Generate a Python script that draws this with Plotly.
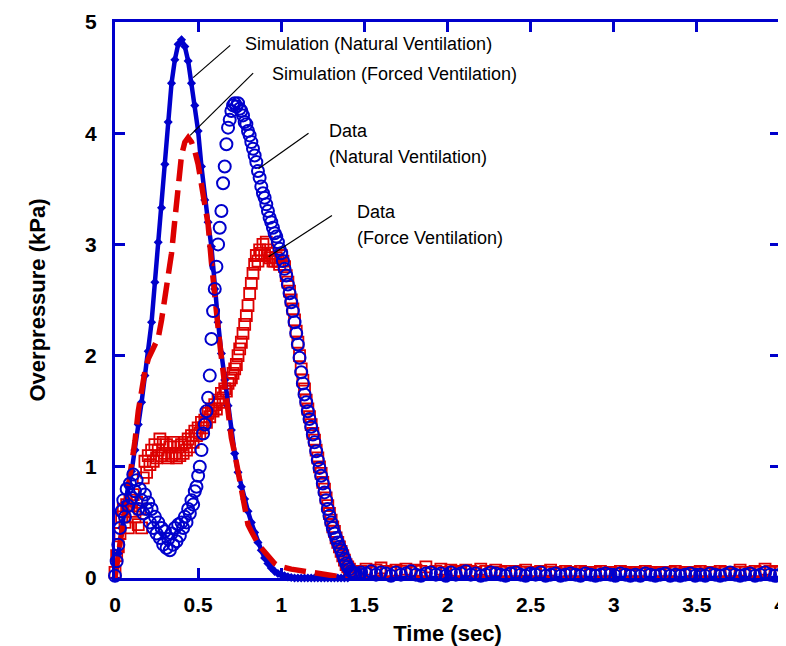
import numpy as np
import plotly.graph_objects as go

# ---------------- data ----------------
# simulation sample times: 0 .. 1.40 s every 0.02 s, plus tail points
sim_step = 0.02
sim_tail_t = [2.0, 3.0, 4.0]

sim_natural = [0, 0.22, 0.45, 0.68, 0.84, 0.96, 1.15, 1.38, 1.58, 1.82,
               2.04, 2.3, 2.66, 3.02, 3.33, 3.72, 4.1, 4.45, 4.66, 4.8,
               4.84, 4.78, 4.65, 4.45, 4.25, 4.02, 3.7, 3.4, 3.2, 2.98,
               2.6, 2.3, 2.02, 1.78, 1.55, 1.33, 1.12, 0.95, 0.82, 0.71,
               0.6, 0.5, 0.41, 0.32, 0.25, 0.18, 0.13, 0.09, 0.06, 0.04,
               0.03, 0.02, 0.01, 0.005, 0, 0, 0, 0, 0, 0,
               0, 0, 0, 0, 0, 0, 0, 0, 0, 0, 0]
sim_natural_tail = [0, 0, 0]

sim_forced = [0, 0.2, 0.42, 0.65, 0.85, 1.05, 1.23, 1.5, 1.72, 1.86,
              1.97, 2.03, 2.08, 2.16, 2.32, 2.52, 2.72, 2.92, 3.22, 3.55,
              3.8, 3.92, 3.96, 3.92, 3.84, 3.72, 3.54, 3.38, 3.18, 2.84,
              2.5, 2.25, 1.98, 1.72, 1.46, 1.26, 1.12, 0.95, 0.76, 0.6,
              0.48, 0.42, 0.36, 0.31, 0.27, 0.23, 0.19, 0.16, 0.13, 0.11,
              0.1, 0.09, 0.085, 0.08, 0.075, 0.07, 0.065, 0.06, 0.055, 0.05,
              0.045, 0.04, 0.038, 0.032, 0.026, 0.02, 0.015, 0.01, 0.005, 0, 0]
sim_forced_tail = [0, 0, 0]

# measured data: 0 .. 1.45 s every 0.01 s, then 1.48 .. 4.00 s every 0.03 s
data_step = 0.01
tail_start = 1.48
tail_step = 0.03

data_natural = [0.02, 0.15, 0.3, 0.45, 0.6, 0.7, 0.55, 0.8, 0.65, 0.85,
                0.72, 0.93, 0.78, 0.88, 0.62, 0.8, 0.7, 0.58, 0.75, 0.62,
                0.68, 0.5, 0.62, 0.45, 0.55, 0.4, 0.5, 0.36, 0.45, 0.3,
                0.42, 0.27, 0.35, 0.25, 0.4, 0.3, 0.45, 0.33, 0.48, 0.38,
                0.5, 0.45, 0.55, 0.5, 0.62, 0.58, 0.7, 0.66, 0.78, 0.82,
                0.92, 1.0, 1.15, 1.3, 1.38, 1.5, 1.62, 1.82, 2.15, 2.4,
                2.6, 2.8, 3.0, 3.15, 3.3, 3.55, 3.7, 3.9, 4.05, 4.12,
                4.2, 4.25, 4.27, 4.24, 4.27, 4.22, 4.2, 4.16, 4.1, 4.08,
                4.02, 3.98, 3.92, 3.86, 3.8, 3.74, 3.66, 3.6, 3.52, 3.46,
                3.42, 3.36, 3.3, 3.24, 3.2, 3.15, 3.1, 3.07, 3.02, 2.96,
                2.92, 2.85, 2.78, 2.72, 2.64, 2.56, 2.48, 2.4, 2.3, 2.2,
                2.1, 1.98, 1.85, 1.75, 1.65, 1.58, 1.5, 1.43, 1.36, 1.29,
                1.22, 1.14, 1.06, 0.99, 0.92, 0.85, 0.77, 0.7, 0.62, 0.56,
                0.5, 0.45, 0.4, 0.36, 0.32, 0.28, 0.25, 0.21, 0.17, 0.13,
                0.1, 0.08, 0.06, 0.05, 0.04, 0.04]
data_natural_tail = [0.05, 0.04, 0.06, 0.03, 0.05, 0.04, 0.02, 0.05, 0.03, 0.04,
                     0.06, 0.03, 0.02, 0.04, 0.05, 0.03, 0.04, 0.02, 0.05, 0.03,
                     0.04, 0.06, 0.03, 0.04, 0.02, 0.03, 0.05, 0.04, 0.03, 0.02,
                     0.04, 0.05, 0.03, 0.02, 0.04, 0.03, 0.05, 0.02, 0.03, 0.04,
                     0.02, 0.03, 0.04, 0.03, 0.02, 0.04, 0.03, 0.02, 0.03, 0.04,
                     0.03, 0.02, 0.04, 0.03, 0.02, 0.03, 0.02, 0.04, 0.03, 0.02,
                     0.03, 0.04, 0.02, 0.03, 0.02, 0.03, 0.04, 0.02, 0.03, 0.02,
                     0.04, 0.03, 0.02, 0.03, 0.05, 0.03, 0.02, 0.03, 0.04, 0.02,
                     0.03, 0.05, 0.03, 0.02, 0.03]

data_forced = [0.05, 0.2, 0.28, 0.4, 0.55, 0.62, 0.5, 0.66, 0.45, 0.7,
               0.6, 0.75, 0.55, 0.68, 0.48, 0.62, 0.45, 0.9, 1.05, 0.95,
               1.1, 1.02, 1.15, 1.05, 1.2, 1.08, 1.15, 1.25, 1.1, 1.22,
               1.12, 1.2, 1.08, 1.18, 1.1, 1.22, 1.12, 1.08, 1.18, 1.1,
               1.2, 1.12, 1.22, 1.15, 1.25, 1.18, 1.28, 1.22, 1.32, 1.28,
               1.35, 1.3, 1.4, 1.35, 1.42, 1.4, 1.48, 1.45, 1.52, 1.5,
               1.56, 1.52, 1.6, 1.58, 1.66, 1.62, 1.7, 1.68, 1.75, 1.78,
               1.8, 1.84, 1.88, 1.92, 2.0, 2.06, 2.12, 2.2, 2.28, 2.36,
               2.45, 2.56, 2.65, 2.74, 2.82, 2.9, 2.85, 2.95, 2.92, 3.0,
               2.9, 3.02, 2.95, 2.88, 2.92, 2.85, 2.85, 2.88, 2.85, 2.82,
               2.9, 2.85, 2.8, 2.72, 2.66, 2.58, 2.5, 2.42, 2.32, 2.22,
               2.12, 2.0, 1.88, 1.78, 1.7, 1.6, 1.52, 1.45, 1.38, 1.3,
               1.24, 1.15, 1.08, 1.0, 0.94, 0.86, 0.8, 0.72, 0.65, 0.58,
               0.52, 0.46, 0.42, 0.36, 0.32, 0.28, 0.24, 0.2, 0.16, 0.12,
               0.1, 0.08, 0.06, 0.05, 0.06, 0.05]
data_forced_tail = [0.06, 0.08, 0.05, 0.07, 0.09, 0.06, 0.05, 0.07, 0.06, 0.08,
                    0.05, 0.07, 0.06, 0.1, 0.05, 0.06, 0.08, 0.05, 0.07, 0.06,
                    0.05, 0.07, 0.06, 0.05, 0.08, 0.06, 0.05, 0.07, 0.05, 0.06,
                    0.04, 0.06, 0.05, 0.07, 0.05, 0.04, 0.06, 0.05, 0.07, 0.05,
                    0.04, 0.06, 0.05, 0.04, 0.06, 0.05, 0.04, 0.05, 0.06, 0.04,
                    0.05, 0.04, 0.06, 0.05, 0.04, 0.05, 0.04, 0.06, 0.05, 0.04,
                    0.05, 0.04, 0.05, 0.06, 0.04, 0.05, 0.04, 0.05, 0.06, 0.04,
                    0.05, 0.04, 0.06, 0.05, 0.04, 0.05, 0.07, 0.05, 0.04, 0.06,
                    0.05, 0.08, 0.06, 0.05, 0.06]

x_ticks = [0, 0.5, 1, 1.5, 2, 2.5, 3, 3.5, 4]
x_tick_labels = ["0", "0.5", "1", "1.5", "2", "2.5", "3", "3.5", "4"]
y_ticks = [0, 1, 2, 3, 4, 5]
y_tick_labels = ["0", "1", "2", "3", "4", "5"]

labels = ["Simulation (Natural Ventilation)", "Simulation (Forced Ventilation)",
          "Data", "(Natural Ventilation)", "Data", "(Force Ventilation)"]

# ---------------- build ----------------
t_sim = list(np.round(np.arange(len(sim_natural)) * sim_step, 3)) + sim_tail_t
t_data = list(np.round(np.arange(len(data_natural)) * data_step, 3)) + \
    list(np.round(tail_start + np.arange(len(data_natural_tail)) * tail_step, 3))

BLUE = "#0000CC"
RED = "#DD0000"
FONT = "Arial, Liberation Sans, sans-serif"

fig = go.Figure()
fig.add_trace(go.Scatter(x=t_data, y=data_forced + data_forced_tail, mode="markers",
                         marker=dict(symbol="square-open", size=11, color=RED,
                                     line=dict(width=1.8, color=RED)),
                         cliponaxis=False, name="Data (Force Ventilation)"))
fig.add_trace(go.Scatter(x=t_sim, y=sim_natural + sim_natural_tail, mode="lines+markers",
                         line=dict(color=BLUE, width=4.5),
                         marker=dict(symbol="diamond", size=7, color=BLUE),
                         cliponaxis=False, name="Simulation (Natural Ventilation)"))
fig.add_trace(go.Scatter(x=t_sim, y=sim_forced + sim_forced_tail, mode="lines",
                         line=dict(color=RED, width=5.5, dash="22px,9px"),
                         cliponaxis=False, name="Simulation (Forced Ventilation)"))
fig.add_trace(go.Scatter(x=t_data, y=data_natural + data_natural_tail, mode="markers",
                         marker=dict(symbol="circle-open", size=12, color=BLUE,
                                     line=dict(width=2, color=BLUE)),
                         cliponaxis=False, name="Data (Natural Ventilation)"))

# leader lines (data coordinates)
leaders = [((0.693, 4.79), (0.47, 4.5)),
           ((0.831, 4.54), (0.452, 3.98)),
           ((1.164, 4.0), (0.863, 3.68)),
           ((1.305, 3.26), (0.924, 2.89))]
for (x0, y0), (x1, y1) in leaders:
    fig.add_shape(type="line", xref="x", yref="y", x0=x0, y0=y0, x1=x1, y1=y1,
                  line=dict(color="black", width=1.2))

label_pos = [(0.771, 4.80), (0.934, 4.53), (1.277, 4.02), (1.277, 3.79),
             (1.446, 3.29), (1.446, 3.06)]
for txt, (x, y) in zip(labels, label_pos):
    fig.add_annotation(x=x, y=y, xref="x", yref="y", text=txt, showarrow=False,
                       xanchor="left", yanchor="middle",
                       font=dict(family=FONT, size=18, color="black"))

axis_common = dict(showline=True, linecolor=BLUE, linewidth=3, mirror="ticks",
                   ticks="inside", ticklen=10, tickwidth=3, tickcolor=BLUE,
                   showgrid=False, zeroline=False, automargin=False,
                   ticklabeloverflow="allow",
                   tickfont=dict(family=FONT, size=21, color="black", weight="bold"))

# the page body adds an 8px offset, so the figure is 8px smaller than the window
fig.update_layout(
    width=778, height=638,
    margin=dict(l=107, r=6, t=14, b=68),
    plot_bgcolor="white", paper_bgcolor="white",
    showlegend=False,
    xaxis=dict(range=[0, 4], tickvals=x_ticks, ticktext=x_tick_labels,
               ticklabelstandoff=6,
               title=dict(text="Time (sec)", standoff=11,
                          font=dict(family=FONT, size=22, color="black", weight="bold")),
               **axis_common),
    yaxis=dict(range=[0, 5], tickvals=y_ticks, ticktext=y_tick_labels,
               ticklabelstandoff=11,
               title=dict(text="Overpressure (kPa)", standoff=34,
                          font=dict(family=FONT, size=22, color="black", weight="bold")),
               **axis_common),
)

fig.write_html("out.html")
